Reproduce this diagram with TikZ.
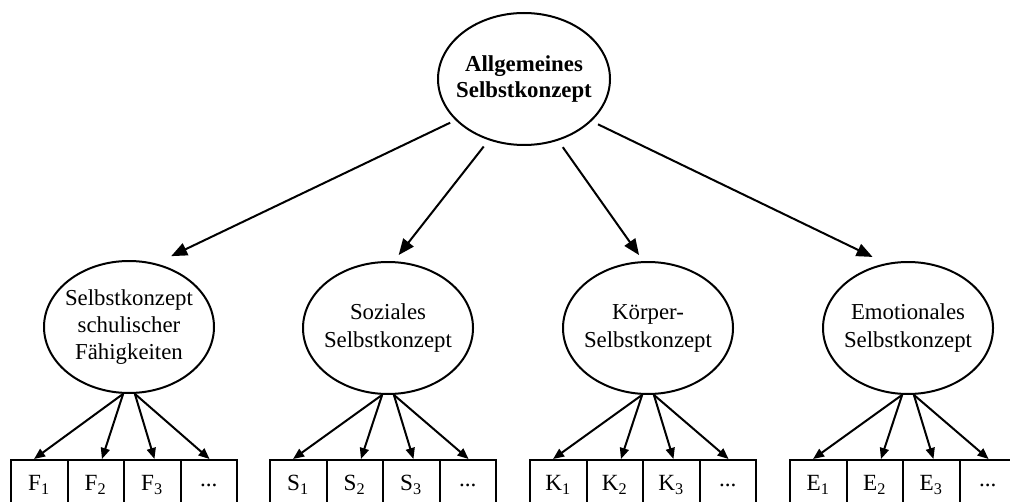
\documentclass[tikz,border=0pt]{standalone}
\usepackage{fontspec}
\setmainfont{Liberation Serif}
\usetikzlibrary{arrows.meta,shapes.geometric}
\tikzset{
  ell/.style={draw, ellipse, line width=1pt, inner sep=0pt, minimum width=85pt, minimum height=66pt,
    font=\fontsize{11.4}{13.6}\selectfont},
  topell/.style={ell, minimum width=86pt, font=\fontsize{11.4}{13.2}\selectfont\bfseries},
  cell/.style={draw, rectangle, line width=1pt, inner sep=0pt, minimum width=28.25pt, minimum height=25pt,
    font=\fontsize{11.6}{13.6}\selectfont},
  bigarrow/.style={line width=1pt, -{Triangle[length=8pt,width=6.5pt]}},
  smallarrow/.style={line width=1pt, -{Triangle[length=5.5pt,width=4.5pt]}}
}
\newcommand{\lines}[1]{\makebox[0pt]{\begin{tabular}{@{}c@{}}#1\end{tabular}}}
\begin{document}
\begin{tikzpicture}[x=0.5pt,y=-0.5pt]
\useasboundingbox (0,0) rectangle (1010,502);
\fill[white] (0,0) rectangle (1010,502);
\node[topell] (top) at (524,79) {\lines{Allgemeines\\Selbstkonzept}};
\node[ell] (F) at (129,327) {\lines{Selbstkonzept\\schulischer\\Fähigkeiten}};
\node[ell] (S) at (388,328) {\lines{Soziales\\Selbstkonzept}};
\node[ell] (K) at (648,328) {\lines{Körper-\\Selbstkonzept}};
\node[ell] (E) at (908,328) {\lines{Emotionales\\Selbstkonzept}};
\draw[bigarrow, shorten <=2.9pt, shorten >=8.4pt] (top.211.9) -- (F.67.6);
\draw[bigarrow, shorten <=4pt, shorten >=3.9pt] (top.240.75) -- (S.85.5);
\draw[bigarrow, shorten <=4pt, shorten >=3.7pt] (top.299.7) -- (K.94.2);
\draw[bigarrow, shorten <=3.6pt, shorten >=7.3pt] (top.328.9) -- (E.109.8);
\foreach \g/\cx in {F/129, S/388, K/648, E/908} {
  \node[cell] (\g1) at (\cx-89.75,485) {\g\textsubscript{1}};
  \node[cell] (\g2) at (\cx-33.25,485) {\g\textsubscript{2}};
  \node[cell] (\g3) at (\cx+23.25,485) {\g\textsubscript{3}};
  \node[cell] (\g4) at (\cx+79.75,485) {...};
  \draw[smallarrow] (\g.265) -- ([xshift=-2.6pt]\g1.north);
  \draw[smallarrow] (\g.265) -- ([xshift=3.1pt]\g2.north);
  \draw[smallarrow] (\g.275) -- ([xshift=1.1pt]\g3.north);
  \draw[smallarrow] (\g.275) -- ([xshift=0.4pt]\g4.north);
}
\end{tikzpicture}
\end{document}
